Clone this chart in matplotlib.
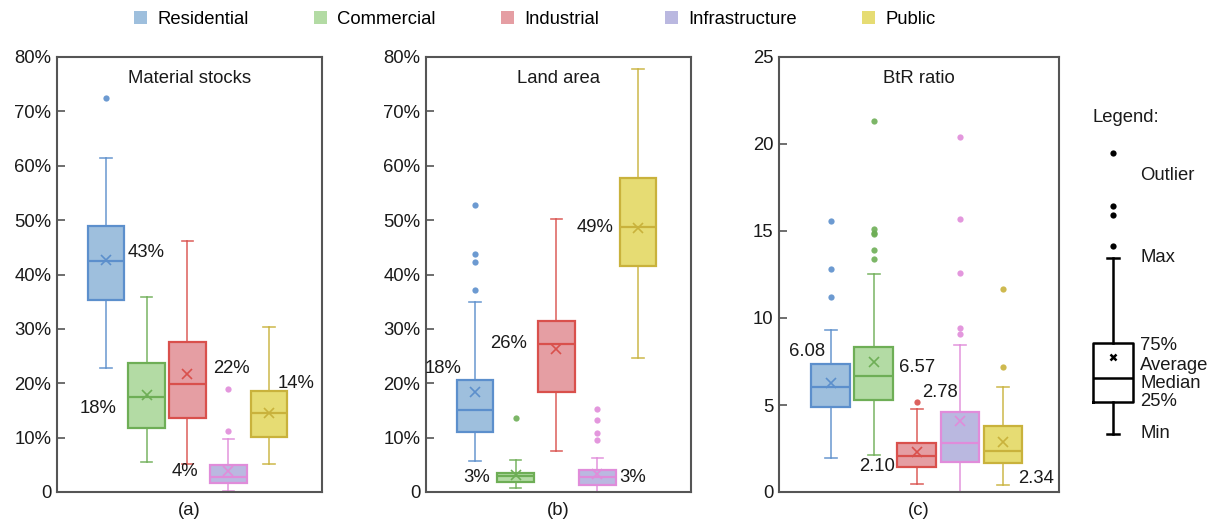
import matplotlib
matplotlib.use('Agg')
import matplotlib.pyplot as plt
from matplotlib.patches import Patch

plt.rcParams['font.family'] = ['Liberation Sans', 'DejaVu Sans']
FS = 13.3

categories = ['Residential', 'Commercial', 'Industrial', 'Infrastructure', 'Public']

# (a) material stocks, %
stocks_lo = [22.8, 5.6, 5.2, 0.1, 5.1]
stocks_q1 = [35.4, 11.8, 13.7, 1.7, 10.1]
stocks_med = [42.4, 17.4, 19.8, 2.7, 14.5]
stocks_q3 = [48.9, 23.8, 27.5, 5.0, 18.5]
stocks_hi = [61.4, 35.9, 46.1, 9.8, 30.4]
stocks_mean = [42.7, 17.8, 21.7, 3.8, 14.5]
stocks_out = [[72.5], [], [], [18.9, 11.3], []]
stocks_labels = ['43%', '18%', '22%', '4%', '14%']

# (b) land area, %
land_lo = [5.75, 0.7, 7.6, 0.0, 24.7]
land_q1 = [11.0, 1.8, 18.4, 1.2, 41.6]
land_med = [15.1, 2.9, 27.2, 2.75, 48.8]
land_q3 = [20.6, 3.5, 31.5, 4.1, 57.8]
land_hi = [35.0, 5.9, 50.2, 6.2, 77.8]
land_mean = [18.4, 3.1, 26.3, 3.4, 48.5]
land_out = [[52.8, 43.8, 42.3, 37.1], [13.7], [], [15.2, 13.2, 10.8, 9.6], []]
land_labels = ['18%', '3%', '26%', '3%', '49%']

# (c) BtR ratio
btr_lo = [1.93, 2.14, 0.46, 0.0, 0.38]
btr_q1 = [4.9, 5.3, 1.43, 1.70, 1.66]
btr_med = [6.04, 6.69, 2.05, 2.81, 2.33]
btr_q3 = [7.35, 8.32, 2.83, 4.59, 3.8]
btr_hi = [9.33, 12.55, 4.76, 8.42, 6.06]
btr_mean = [6.25, 7.46, 2.3, 4.09, 2.9]
btr_out = [[15.6, 12.8, 11.2], [21.3, 15.1, 14.9, 14.8, 13.9, 13.4], [5.2],
           [20.4, 15.7, 12.6, 9.4, 9.07], [11.65, 7.2]]
btr_labels = ['6.08', '6.57', '2.10', '2.78', '2.34']

fills = ['#9ebfdd', '#b3dba4', '#e59ea3', '#bab8e0', '#e6dc73']
edges = ['#5c8fcc', '#6eae56', '#d9504c', '#e08cda', '#c9b23c']

# label placement per panel: (x, y, ha)
stocks_lpos = [(1.54, 44.0, 'left'), (1.27, 15.4, 'right'), (3.63, 22.8, 'left'),
               (3.26, 3.7, 'right'), (5.22, 20.0, 'left')]
land_lpos = [(0.68, 22.8, 'right'), (1.37, 2.6, 'right'), (2.28, 27.4, 'right'),
             (4.53, 2.6, 'left'), (4.39, 48.7, 'right')]
btr_lpos = [(0.87, 8.05, 'right'), (2.59, 7.13, 'left'), (2.49, 1.44, 'right'),
            (3.12, 5.69, 'left'), (5.35, 0.8, 'left')]

fig = plt.figure(figsize=(12.1, 5.23), dpi=100)
W, H = 1210, 523


def make_stats(lo, q1, med, q3, hi, mean, out):
    return [dict(whislo=lo[i], q1=q1[i], med=med[i], q3=q3[i], whishi=hi[i],
                 mean=mean[i], fliers=out[i]) for i in range(len(lo))]


def draw_panel(rect, stats, title, sub, ylim, yticks, yticklabels, labels, lpos):
    ax = fig.add_axes(rect)
    for i, s in enumerate(stats):
        ax.bxp([s], positions=[i + 1], widths=0.9, patch_artist=True, showmeans=True,
               boxprops=dict(facecolor=fills[i], edgecolor=edges[i], linewidth=1.6),
               medianprops=dict(color=edges[i], linewidth=1.6),
               whiskerprops=dict(color=edges[i], linewidth=1.2, alpha=0.85),
               capprops=dict(color=edges[i], linewidth=1.2, alpha=0.85),
               meanprops=dict(marker='x', markeredgecolor=edges[i], markersize=7,
                              markeredgewidth=1.2),
               flierprops=dict(marker='o', markerfacecolor=edges[i], markeredgecolor='none',
                               markersize=4.5, alpha=0.9),
               capwidths=0.28)
    for t, (x, y, ha) in zip(labels, lpos):
        ax.text(x, y, t, ha=ha, va='center', fontsize=FS, color='#1a1a1a')
    ax.set_xlim(-0.2, 6.3)
    ax.set_ylim(*ylim)
    ax.set_yticks(yticks)
    ax.set_yticklabels(yticklabels)
    ax.set_xticks([])
    ax.tick_params(axis='y', direction='in', length=6, width=1.2, labelsize=FS,
                   colors='#555555', labelcolor='#1a1a1a', pad=4)
    for sp in ax.spines.values():
        sp.set_color('#555555')
        sp.set_linewidth(1.5)
    ax.text(0.5, 0.95, title, transform=ax.transAxes, ha='center', va='center',
            fontsize=FS, color='#1a1a1a')
    ax.text(0.5, -0.042, sub, transform=ax.transAxes, ha='center', va='center',
            fontsize=FS, color='#1a1a1a')
    return ax


pct_ticks = [0, 10, 20, 30, 40, 50, 60, 70, 80]
pct_labels = ['0'] + [f'{t}%' for t in pct_ticks[1:]]
bottom = 31 / H
height = 435 / H

draw_panel([57 / W, bottom, 265 / W, height],
           make_stats(stocks_lo, stocks_q1, stocks_med, stocks_q3, stocks_hi, stocks_mean, stocks_out),
           'Material stocks', '(a)', (0, 80), pct_ticks, pct_labels, stocks_labels, stocks_lpos)
draw_panel([426 / W, bottom, 265 / W, height],
           make_stats(land_lo, land_q1, land_med, land_q3, land_hi, land_mean, land_out),
           'Land area', '(b)', (0, 80), pct_ticks, pct_labels, land_labels, land_lpos)
btr_ticks = [0, 5, 10, 15, 20, 25]
draw_panel([779 / W, bottom, 280 / W, height],
           make_stats(btr_lo, btr_q1, btr_med, btr_q3, btr_hi, btr_mean, btr_out),
           'BtR ratio', '(c)', (0, 25), btr_ticks, [str(t) for t in btr_ticks],
           btr_labels, btr_lpos)

# top legend
handles = [Patch(facecolor=c, edgecolor='none') for c in fills]
fig.legend(handles, categories, loc='center', bbox_to_anchor=(0.442, 0.962), ncol=5,
           frameon=False, fontsize=FS, handlelength=0.7, handleheight=0.7,
           handletextpad=0.55, columnspacing=3.55)

# schematic legend on the right (figure pixel coordinates, y downward)
key_stats = dict(whislo=434, q1=402, med=378, q3=343, whishi=258, mean=357,
                 fliers=[246, 215, 206, 153])
key_texts = ['Outlier', 'Max', '75%', 'Average', 'Median', '25%', 'Min']
key_text_y = [176, 258, 346, 365, 383, 402, 433]

axk = fig.add_axes([0, 0, 1, 1])
axk.set_xlim(0, W)
axk.set_ylim(H, 0)
axk.axis('off')
axk.bxp([key_stats], positions=[1113], widths=40, showmeans=True,
        boxprops=dict(color='black', linewidth=1.8),
        medianprops=dict(color='black', linewidth=1.8),
        whiskerprops=dict(color='black', linewidth=1.8),
        capprops=dict(color='black', linewidth=1.8),
        meanprops=dict(marker='x', markeredgecolor='black', markersize=4.5,
                       markeredgewidth=1.8),
        flierprops=dict(marker='o', markerfacecolor='black', markeredgecolor='none',
                        markersize=4.5),
        capwidths=12)
axk.text(1092, 118, 'Legend:', ha='left', va='center', fontsize=FS, color='#1a1a1a')
for t, y in zip(key_texts, key_text_y):
    axk.text(1140, y, t, ha='left', va='center', fontsize=FS, color='#1a1a1a')

fig.savefig('out.png', dpi=100)
